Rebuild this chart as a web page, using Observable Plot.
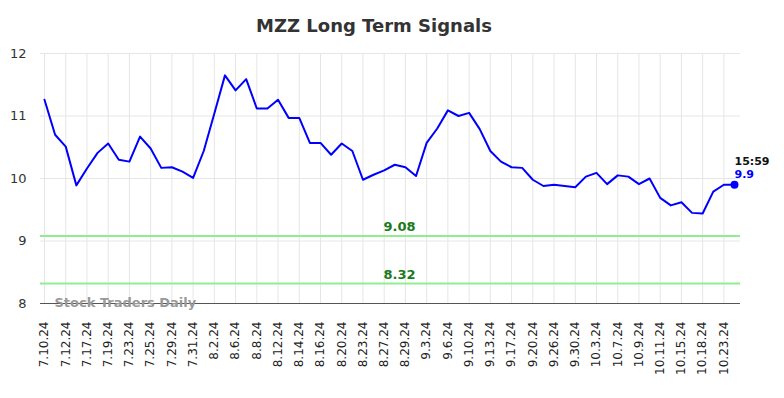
<!DOCTYPE html>
<html>
<head>
<meta charset="utf-8">
<script src="https://cdn.jsdelivr.net/npm/d3@7"></script>
<script src="https://cdn.jsdelivr.net/npm/@observablehq/plot@0.6"></script>
<style>
  html, body { margin: 0; padding: 0; background: #fff; }
  body { width: 784px; height: 398px; overflow: hidden; font-family: "DejaVu Sans", sans-serif; }
  #title { height: 40px; box-sizing: border-box; padding-top: 16px; line-height: 20px; text-align: center;
           font-size: 18px; font-weight: bold; color: #333; padding-right: 36px; }
</style>
</head>
<body>
<div id="title">MZZ Long Term Signals</div>
<div id="chart"></div>
<script>
const title = "MZZ Long Term Signals";
const tickLabels = ["7.10.24","7.12.24","7.17.24","7.19.24","7.23.24","7.25.24","7.29.24","7.31.24",
  "8.2.24","8.6.24","8.8.24","8.12.24","8.14.24","8.16.24","8.20.24","8.23.24","8.27.24","8.29.24",
  "9.3.24","9.6.24","9.10.24","9.13.24","9.17.24","9.20.24","9.26.24","9.30.24",
  "10.3.24","10.7.24","10.9.24","10.11.24","10.15.24","10.18.24","10.23.24"];
const prices = [11.26,10.70,10.51,9.89,10.16,10.41,10.56,10.30,10.27,10.67,10.48,10.17,10.18,10.11,10.01,10.44,
  11.04,11.65,11.41,11.59,11.12,11.12,11.26,10.97,10.97,10.57,10.57,10.38,10.56,10.44,9.98,10.06,10.13,10.22,
  10.18,10.04,10.57,10.80,11.09,11.00,11.05,10.79,10.44,10.27,10.18,10.17,9.98,9.88,9.90,9.88,9.86,10.03,10.09,
  9.91,10.05,10.03,9.91,10.00,9.69,9.57,9.62,9.45,9.44,9.79,9.90,9.90];
const levels = [9.08, 8.32];
const yTicks = [8, 9, 10, 11, 12];
const lastTime = "15:59";
const lastLabel = "9.9";
const watermark = "Stock Traders Daily";

const data = prices.map((v, i) => ({i, v}));
const last = data[data.length - 1];
const tickPos = tickLabels.map((_, k) => k * 2);
const midX = (prices.length - 1) / 2;

const chart = Plot.plot({
  width: 784,
  height: 358,
  marginTop: 13,
  marginBottom: 95,
  marginLeft: 40,
  marginRight: 44,
  style: {fontFamily: "DejaVu Sans, sans-serif", background: "#fff", overflow: "visible"},
  x: {type: "linear", domain: [0, prices.length - 1], insetLeft: 4, insetRight: 6},
  y: {domain: [8, 12]},
  marks: [
    Plot.gridY(yTicks, {stroke: "#e6e6e6", strokeOpacity: 1, strokeWidth: 1}),
    Plot.gridX(tickPos, {stroke: "#e6e6e6", strokeOpacity: 1, strokeWidth: 1}),
    Plot.axisY(yTicks, {tickSize: 0, tickPadding: 14, fontSize: 13, fill: "#333", tickFormat: d => d, label: null}),
    Plot.axisX(tickPos, {tickSize: 0, tickPadding: 18, fontSize: 12, fill: "#222", tickRotate: -90,
      tickFormat: d => tickLabels[d / 2], textAnchor: "end", label: null}),
    Plot.ruleY(levels, {stroke: "#90ee90", strokeWidth: 2}),
    Plot.text(levels, {x: midX, y: d => d, text: d => d.toFixed(2), dx: 10, dy: -9,
      fill: "#1a7a1a", fontWeight: "bold", fontSize: 13}),
    Plot.ruleY([8], {stroke: "#555", strokeWidth: 1}),
    Plot.text([watermark], {frameAnchor: "bottom-left", text: d => d, dx: 14, dy: -1,
      textAnchor: "start", lineAnchor: "middle", fill: "#999", fontWeight: "bold", fontSize: 13}),
    Plot.line(data, {x: "i", y: "v", stroke: "#0000ff", strokeWidth: 2}),
    Plot.dot([last], {x: "i", y: "v", r: 4, fill: "#0000ff"}),
    Plot.text([last], {x: "i", y: "v", text: () => lastTime, textAnchor: "start", dy: -23,
      fill: "#111", fontWeight: "bold", fontSize: 11}),
    Plot.text([last], {x: "i", y: "v", text: () => lastLabel, textAnchor: "start", dy: -10,
      fill: "#0000ff", fontWeight: "bold", fontSize: 11})
  ]
});
document.getElementById("chart").appendChild(chart);
</script>
</body>
</html>
